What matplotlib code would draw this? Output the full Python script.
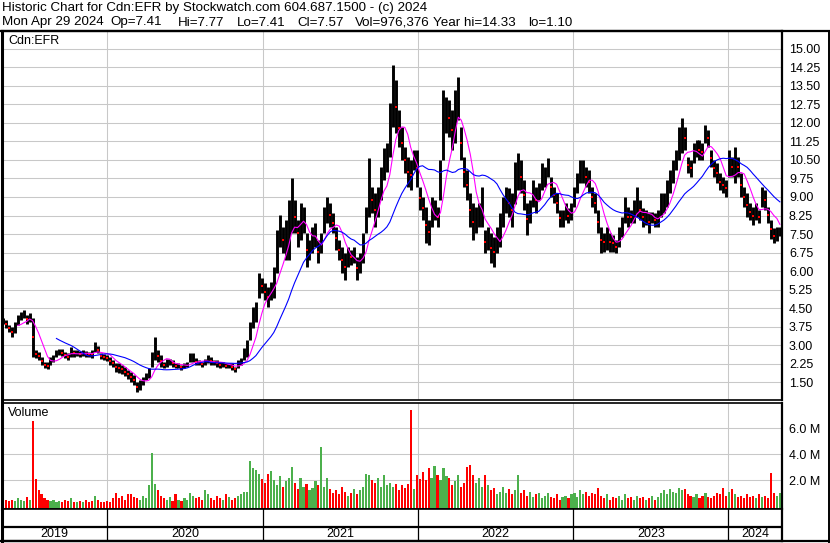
import matplotlib
matplotlib.use('Agg')
import matplotlib.pyplot as plt
from matplotlib.lines import Line2D
import numpy as np
import pandas as pd

plt.rcParams['font.family'] = ['Liberation Sans', 'DejaVu Sans']

W, H = 830, 543

# ---------------- data (weekly) ----------------
dates = pd.date_range('2019-05-01', periods=262, freq='7D')

high = [4.09, 4.02, 3.82, 3.75, 3.95, 4.22, 4.36, 4.42, 4.22, 4.32,
        4.09, 2.80, 2.74, 2.53, 2.33, 2.33, 2.53, 2.60, 2.80, 2.83,
        2.83, 2.74, 2.67, 2.94, 2.80, 2.80, 2.78, 2.80, 2.78, 2.74,
        2.80, 3.14, 2.97, 2.67, 2.64, 2.60, 2.51, 2.40, 2.27, 2.27,
        2.20, 2.10, 2.00, 1.90, 1.79, 1.52, 1.59, 1.73, 1.86, 2.06,
        2.74, 3.35, 2.80, 2.60, 2.33, 2.43, 2.45, 2.40, 2.27, 2.27,
        2.20, 2.27, 2.33, 2.67, 2.67, 2.47, 2.40, 2.33, 2.43, 2.60,
        2.53, 2.40, 2.40, 2.33, 2.33, 2.27, 2.27, 2.27, 2.13, 2.40,
        2.47, 2.87, 3.21, 3.95, 4.56, 4.75, 5.91, 5.71, 5.50, 5.37,
        5.57, 6.18, 7.66, 8.27, 7.80, 8.07, 8.88, 9.76, 8.88, 8.07,
        8.74, 8.61, 7.53, 7.26, 7.80, 7.93, 7.26, 7.53, 8.61, 9.01,
        8.74, 8.34, 7.80, 7.26, 6.99, 6.72, 6.99, 6.85, 6.99, 6.58,
        6.72, 7.53, 8.61, 10.56, 9.42, 9.15, 9.42, 10.23, 11.00, 11.20,
        12.79, 14.33, 13.74, 12.52, 11.85, 11.04, 10.63, 10.50, 10.90, 10.90,
        9.42, 9.01, 8.61, 8.07, 9.01, 8.88, 8.61, 10.50, 13.33, 13.06,
        12.93, 12.52, 13.33, 13.87, 11.85, 10.63, 10.09, 9.15, 8.74, 8.61,
        8.74, 9.42, 7.66, 7.80, 7.53, 7.39, 7.80, 8.34, 9.01, 9.42,
        9.35, 9.15, 10.40, 10.77, 10.50, 9.69, 8.74, 8.88, 9.69, 9.42,
        9.55, 10.36, 10.23, 10.56, 9.82, 9.42, 9.15, 8.47, 8.47, 8.74,
        8.54, 8.74, 9.42, 9.96, 10.50, 10.50, 10.23, 10.09, 9.42, 9.15,
        8.47, 7.80, 7.53, 7.80, 7.53, 7.46, 7.26, 7.80, 8.20, 9.01,
        8.61, 8.47, 8.88, 9.42, 8.88, 8.54, 8.47, 8.41, 8.41, 8.34,
        8.47, 9.15, 9.15, 9.69, 10.09, 10.50, 10.90, 11.85, 12.19, 11.85,
        10.63, 10.50, 11.17, 11.31, 11.31, 11.17, 11.90, 11.71, 10.90, 10.50,
        10.36, 9.96, 9.82, 9.69, 10.90, 10.63, 11.04, 10.63, 9.96, 9.42,
        9.15, 8.74, 8.61, 8.74, 8.47, 9.42, 9.28, 8.61, 8.07, 7.75,
        7.80, 7.77]

low = [3.86, 3.68, 3.55, 3.35, 3.48, 3.82, 4.02, 4.09, 3.86, 3.95,
       2.54, 2.47, 2.40, 2.20, 2.06, 2.02, 2.20, 2.33, 2.51, 2.60,
       2.56, 2.47, 2.40, 2.51, 2.54, 2.56, 2.54, 2.56, 2.51, 2.54,
       2.47, 2.74, 2.67, 2.43, 2.40, 2.37, 2.20, 2.13, 1.93, 1.86,
       1.83, 1.75, 1.65, 1.50, 1.39, 1.12, 1.19, 1.39, 1.59, 1.66,
       2.13, 2.40, 2.33, 2.13, 2.06, 2.13, 2.20, 2.13, 2.06, 2.06,
       2.00, 2.06, 2.13, 2.33, 2.33, 2.20, 2.20, 2.13, 2.20, 2.27,
       2.20, 2.20, 2.13, 2.06, 2.13, 2.06, 2.06, 2.00, 1.93, 2.06,
       2.20, 2.40, 2.54, 3.21, 3.68, 3.95, 4.90, 5.10, 4.83, 4.56,
       4.83, 4.90, 5.91, 6.99, 6.72, 6.45, 6.45, 7.53, 7.53, 6.99,
       7.26, 7.53, 6.18, 6.45, 6.72, 6.99, 6.32, 6.72, 7.53, 7.93,
       7.80, 7.53, 6.85, 6.45, 5.91, 5.64, 6.18, 6.25, 6.32, 5.64,
       5.91, 6.32, 7.53, 8.20, 8.34, 7.80, 8.20, 8.88, 9.69, 10.00,
       10.63, 11.85, 11.58, 11.04, 10.50, 9.96, 9.42, 9.28, 10.09, 9.42,
       8.47, 8.07, 7.12, 7.06, 7.80, 8.07, 7.80, 8.88, 10.50, 11.58,
       11.44, 10.90, 11.17, 12.12, 10.50, 9.42, 8.88, 7.80, 7.26, 7.53,
       7.80, 7.80, 6.72, 6.85, 6.32, 6.18, 6.72, 6.99, 7.80, 8.34,
       8.20, 7.80, 8.70, 9.28, 9.15, 8.47, 7.46, 7.93, 8.61, 8.34,
       8.88, 9.28, 9.42, 9.82, 9.01, 8.74, 8.34, 7.80, 7.80, 8.07,
       7.93, 8.07, 8.61, 9.15, 9.55, 9.55, 9.42, 9.15, 8.61, 8.34,
       7.53, 6.72, 6.79, 6.85, 6.79, 6.79, 6.72, 6.99, 7.39, 7.93,
       7.80, 7.93, 7.93, 8.20, 8.07, 7.80, 7.87, 7.53, 7.93, 7.80,
       7.80, 8.20, 8.34, 8.61, 9.15, 9.55, 10.09, 10.50, 10.77, 10.90,
       9.96, 9.82, 10.36, 10.63, 10.50, 10.50, 11.17, 11.04, 10.23, 9.82,
       9.55, 9.28, 9.15, 9.01, 9.82, 9.82, 9.55, 9.82, 9.01, 8.61,
       8.20, 8.07, 7.87, 8.07, 7.93, 8.61, 8.47, 7.93, 7.30, 7.12,
       7.20, 7.41]

volume_m = [0.6, 0.5, 0.4, 0.5, 0.4, 0.6, 0.5, 0.4, 0.7, 0.5,
            6.57, 2.1, 1.2, 0.9, 0.6, 0.5, 0.4, 0.5, 0.3, 0.4,
            0.3, 0.5, 0.4, 0.6, 0.3, 0.3, 0.4, 0.3, 0.5, 0.3,
            0.4, 0.8, 0.5, 0.3, 0.3, 0.4, 0.3, 0.6, 1.0, 0.6,
            0.8, 0.5, 0.9, 0.9, 0.7, 0.6, 0.5, 0.8, 0.6, 1.66,
            4.1, 1.7, 1.2, 0.8, 0.6, 0.5, 0.7, 0.4, 0.9, 0.5,
            0.4, 0.6, 0.5, 1.0, 0.8, 0.6, 0.7, 0.5, 1.2, 0.9,
            0.6, 0.5, 0.8, 0.6, 0.5, 0.9, 0.7, 0.5, 0.6, 0.8,
            0.9, 1.1, 1.1, 3.47, 2.9, 2.8, 2.5, 2.1, 1.8, 2.5,
            2.7, 2.0, 1.6, 2.3, 1.5, 1.9, 2.2, 3.0, 1.8, 1.3,
            2.2, 1.5, 1.7, 1.2, 1.4, 1.9, 1.6, 4.58, 1.5, 2.2,
            1.3, 1.0, 1.2, 0.9, 1.5, 1.1, 0.8, 1.0, 1.3, 0.9,
            1.2, 1.5, 2.5, 2.4, 2.0, 1.8, 2.2, 1.5, 2.4, 1.6,
            1.8, 1.5, 1.7, 1.2, 1.6, 1.4, 1.7, 7.4, 1.3, 2.4,
            2.1, 2.6, 2.0, 2.9, 2.2, 3.1, 2.4, 2.0, 2.9, 2.3,
            2.2, 1.6, 1.9, 2.4, 1.5, 1.8, 3.0, 3.2, 2.4, 1.8,
            2.2, 1.5, 2.4, 1.6, 1.2, 1.4, 0.9, 1.1, 1.5, 1.0,
            1.3, 0.9, 1.2, 2.4, 1.0, 1.2, 0.8, 1.1, 0.7, 0.9,
            1.0, 0.6, 0.8, 1.0, 0.7, 0.6, 0.9, 0.5, 0.7, 0.8,
            0.6, 0.9, 1.0, 0.7, 1.2, 0.9, 1.1, 0.8, 1.0, 0.9,
            1.4, 0.8, 0.6, 0.9, 0.5, 0.7, 0.6, 0.8, 0.5, 0.9,
            0.6, 0.7, 0.5, 0.8, 0.6, 0.7, 0.5, 0.6, 0.8, 0.5,
            0.7, 1.0, 1.2, 0.9, 1.3, 1.1, 1.0, 1.4, 1.2, 1.3,
            0.9, 0.8, 0.7, 0.9, 0.6, 0.8, 1.0, 0.7, 0.6, 0.8,
            1.0, 0.9, 1.4, 0.8, 1.1, 1.3, 0.9, 0.7, 0.8, 0.6,
            0.9, 0.7, 0.8, 0.6, 0.9, 0.7, 0.8, 0.6, 2.57, 1.0,
            0.8, 0.98]

price_ticks = [1.50, 2.25, 3.00, 3.75, 4.50, 5.25, 6.00, 6.75, 7.50, 8.25,
               9.00, 9.75, 10.50, 11.25, 12.00, 12.75, 13.50, 14.25, 15.00]
vol_ticks = [2.0, 4.0, 6.0]
year_labels = ['2019', '2020', '2021', '2022', '2023', '2024']
year_bounds = pd.to_datetime(['2019-04-30', '2020-01-01', '2021-01-01', '2022-01-01',
                              '2023-01-01', '2024-01-01', '2024-05-06'])

header1 = 'Historic Chart for Cdn:EFR by Stockwatch.com 604.687.1500 - (c) 2024'
header2_fields = ['Mon Apr 29 2024', 'Op=7.41', 'Hi=7.77', 'Lo=7.41', 'Cl=7.57',
                  'Vol=976,376', 'Year hi=14.33', 'lo=1.10']
header2_x = [2, 110, 178, 237, 297, 355, 433, 528]

assert len(high) == len(low) == len(volume_m) == len(dates)

# ---------------- derived ----------------
high = np.array(high); low = np.array(low); volume_m = np.array(volume_m)
mid = pd.Series((high + low) / 2.0)
ma_fast = mid.rolling(6).mean()
ma_slow = mid.rolling(19).mean()
down = np.r_[False, mid.values[1:] < mid.values[:-1]]

XL = (pd.Timestamp('2019-04-29'), pd.Timestamp('2024-05-06'))

def fx(px):
    return px / W

def fy(py):
    return 1 - py / H

FS = 9.0
HFS = 9.6
GRID = '#C8C8C8'

fig = plt.figure(figsize=(W / 100, H / 100), dpi=100)
fig.patch.set_facecolor('white')

# header
fig.text(fx(2), fy(8.5), header1, fontsize=HFS, va='center', ha='left')
for txt, xp in zip(header2_fields, header2_x):
    fig.text(fx(xp), fy(22.5), txt, fontsize=HFS, va='center', ha='left')

# ---------------- main price panel ----------------
ax = fig.add_axes([fx(2), fy(400), fx(782) - fx(2), fy(31) - fy(400)])
ax.set_xlim(*XL)
ax.set_ylim(0.78, 15.72)
ax.set_yticks(price_ticks)
ax.set_yticklabels([f'{t:.2f}' for t in price_ticks])
ax.yaxis.tick_right()
ax.tick_params(axis='y', length=0, pad=5, labelsize=FS)
ax.set_xticks([])
ax.grid(axis='y', color=GRID, lw=0.75)
for d in year_bounds[1:-1]:
    ax.axvline(d, color=GRID, lw=0.75, zorder=0)
ax.vlines(dates, low, high, color='black', lw=2.1, zorder=2)
ax.plot(dates[down], mid.values[down], 's', color='#FF0000', ms=1.6, mew=0, zorder=3)
ax.plot(dates, ma_fast, color='#FF00FF', lw=0.8, zorder=4)
ax.plot(dates, ma_slow, color='#0000FF', lw=0.8, zorder=4)
for s in ax.spines.values():
    s.set_color('black')
ax.spines['left'].set_linewidth(2.2)
ax.spines['top'].set_linewidth(1.6)
ax.spines['right'].set_linewidth(1.6)
ax.spines['bottom'].set_linewidth(1.2)
fig.text(fx(8), fy(41), 'Cdn:EFR', fontsize=FS, va='center', ha='left')

# ---------------- volume panel ----------------
av = fig.add_axes([fx(2), fy(509), fx(782) - fx(2), fy(402.5) - fy(509)])
av.set_xlim(*XL)
av.set_ylim(-0.23, 7.99)
av.set_yticks(vol_ticks)
av.set_yticklabels([f'{t:.1f} M' for t in vol_ticks])
av.yaxis.tick_right()
av.tick_params(axis='y', length=0, pad=5, labelsize=FS)
av.set_xticks([])
av.grid(axis='y', color=GRID, lw=0.75)
for d in year_bounds[1:-1]:
    av.axvline(d, color=GRID, lw=0.75, zorder=0)
vcol = np.where(down, '#FF0000', '#4CB04C')
av.bar(dates, volume_m + 0.23, bottom=-0.23, width=5.0, color=vcol, lw=0, zorder=2)
for s in av.spines.values():
    s.set_color('black')
av.spines['left'].set_linewidth(2.2)
av.spines['top'].set_linewidth(1.2)
av.spines['right'].set_linewidth(1.6)
av.spines['bottom'].set_linewidth(1.2)
fig.text(fx(8), fy(413), 'Volume', fontsize=FS, va='center', ha='left')

# ---------------- date strip ----------------
ad = fig.add_axes([fx(2), fy(541), fx(782) - fx(2), fy(509) - fy(541)])
ad.set_xlim(*XL)
ad.set_ylim(0, 1)
ad.set_xticks([]); ad.set_yticks([])
for d in year_bounds[1:-1]:
    ad.axvline(d, color='black', lw=0.9)
ad.axhline((541 - 527) / 32.0, color='black', lw=1.6)
for i, lab in enumerate(year_labels):
    c = year_bounds[i] + (year_bounds[i + 1] - year_bounds[i]) / 2
    ad.text(c, (541 - 534) / 32.0, lab, fontsize=FS, ha='center', va='center')
for s in ad.spines.values():
    s.set_color('black')
ad.spines['left'].set_linewidth(2.2)
ad.spines['right'].set_linewidth(1.6)
ad.spines['top'].set_linewidth(1.2)
ad.spines['bottom'].set_linewidth(1.6)

# outer frame pieces
fig.add_artist(Line2D([fx(0), fx(830)], [fy(31), fy(31)], color='black', lw=1.6))
fig.add_artist(Line2D([fx(0), fx(830)], [fy(541), fy(541)], color='black', lw=1.6))
fig.add_artist(Line2D([fx(828.5), fx(828.5)], [fy(31), fy(542)], color='black', lw=1.4))

fig.savefig('out.png', dpi=100, facecolor='white')
